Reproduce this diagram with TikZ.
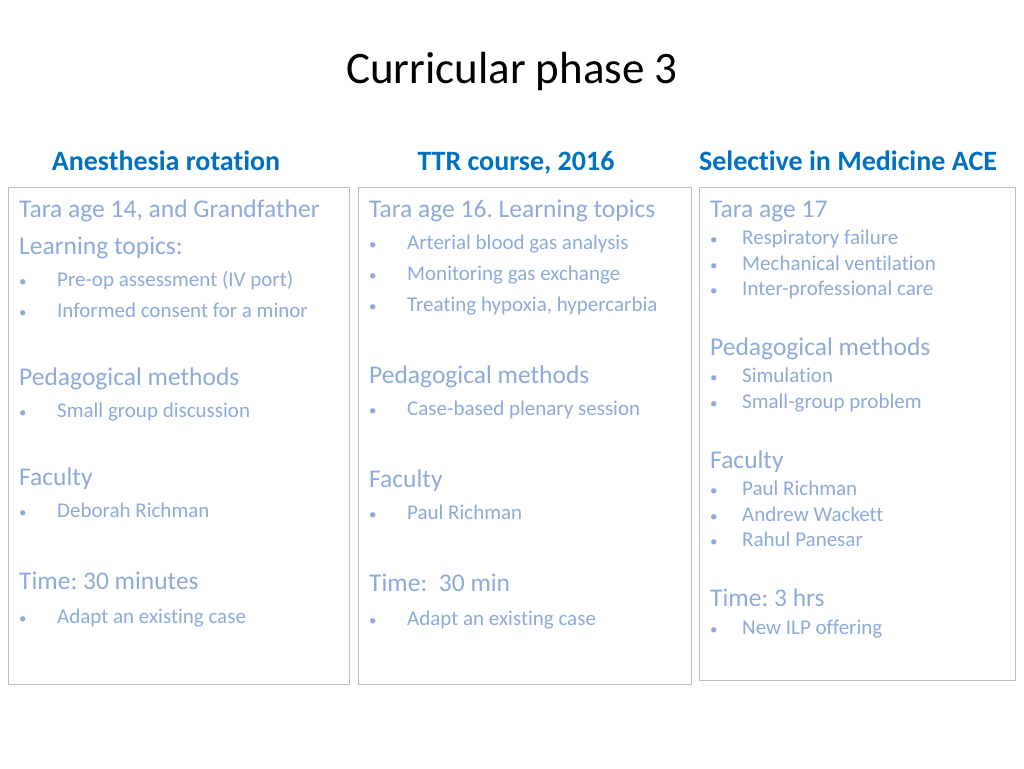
\documentclass[tikz,border=0pt]{standalone}
\usepackage{fontspec}
\setmainfont{Carlito}[RawFeature={-liga;-dlig;-clig}]
\frenchspacing
\definecolor{headblue}{RGB}{0,112,192}
\definecolor{textblue}{RGB}{142,170,219}
\definecolor{boxgray}{RGB}{190,190,190}
\tikzset{
  head/.style={anchor=base, font=\fontsize{28}{32}\selectfont\bfseries, text=headblue},
  big/.style={anchor=base west, inner sep=0pt, font=\fontsize{25.5}{30}\selectfont, text=textblue},
  small/.style={anchor=base west, inner sep=0pt, font=\fontsize{21}{25}\selectfont, text=textblue},
  col/.style={draw=boxgray, line width=1pt}
}
% bullet line: name, x, baseline y, text
\newcommand{\bitem}[4]{%
  \node[small] at (#2,#3) {\fontsize{15}{16}\selectfont•};
  \node[small] (#1) at (#2+38,#3) {#4};}
\newcommand{\citem}[4]{%
  \node[small] at (#2,#3) {\fontsize{15}{16}\selectfont•};
  \node[small] (#1) at (#2+32,#3) {#4};}
\begin{document}
\begin{tikzpicture}[x=1pt, y=-1pt]
  \useasboundingbox (0,0) rectangle (1024,768);
  \node[font=\fontsize{45}{50}\selectfont] (title) at (512,72) {Curricular phase 3};
  \node[head] (h1) at (166,170) {Anesthesia rotation};
  \node[head] (h2) at (516,170) {TTR course, 2016};
  \node[head] (h3) at (848,170) {Selective in Medicine ACE};
  \draw[col] (8,187) rectangle (349,684);
  \draw[col] (358,187) rectangle (691,684);
  \draw[col] (699,187) rectangle (1015,680);
  % column 1
  \node[big] (t1) at (19,217) {Tara age 14, and Grandfather};
  \node[big] (l1) at (19,254) {Learning topics:};
  \bitem{a1}{19}{286}{Pre-op assessment (IV port)}
  \bitem{a2}{19}{317}{Informed consent for a minor}
  \node[big] (p1) at (19,385) {Pedagogical methods};
  \bitem{a3}{19}{417}{Small group discussion}
  \node[big] (f1) at (19,485) {Faculty};
  \bitem{a4}{19}{517}{Deborah Richman}
  \node[big] (m1) at (19,589) {Time: 30 minutes};
  \bitem{a5}{19}{623}{Adapt an existing case}
  % column 2
  \node[big] (t2) at (369,217) {Tara age 16. Learning topics};
  \bitem{b1}{369}{249}{Arterial blood gas analysis}
  \bitem{b2}{369}{280}{Monitoring gas exchange}
  \bitem{b3}{369}{311}{Treating hypoxia, hypercarbia}
  \node[big] (p2) at (369,383) {Pedagogical methods};
  \bitem{b4}{369}{415}{Case-based plenary session}
  \node[big] (f2) at (369,487) {Faculty};
  \bitem{b5}{369}{519}{Paul Richman}
  \node[big] (m2) at (369,591) {Time:~ 30 min};
  \bitem{b6}{369}{625}{Adapt an existing case}
  % column 3
  \node[big] (t3) at (710,217) {Tara age 17};
  \citem{c1}{710}{244}{Respiratory failure}
  \citem{c2}{710}{270}{Mechanical ventilation}
  \citem{c3}{710}{295}{Inter-professional care}
  \node[big] (p3) at (710,355) {Pedagogical methods};
  \citem{c4}{710}{382}{Simulation}
  \citem{c5}{710}{408}{Small-group problem}
  \node[big] (f3) at (710,468) {Faculty};
  \citem{c6}{710}{495}{Paul Richman}
  \citem{c7}{710}{521}{Andrew Wackett}
  \citem{c8}{710}{546}{Rahul Panesar}
  \node[big] (m3) at (710,606) {Time: 3 hrs};
  \citem{c9}{710}{634}{New ILP offering}
\end{tikzpicture}
\end{document}
